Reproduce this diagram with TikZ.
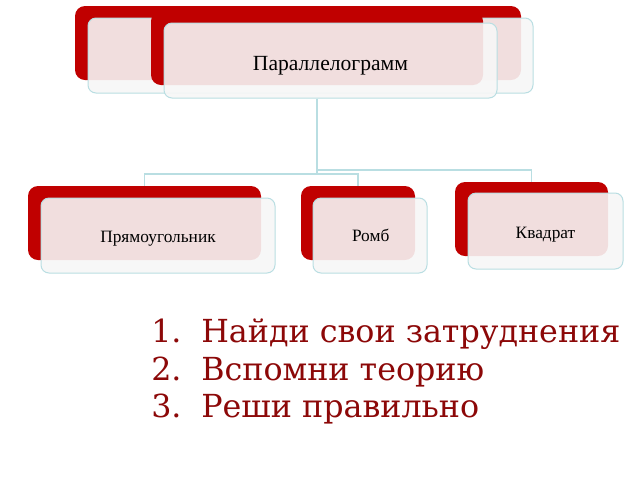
\documentclass[tikz,border=0pt]{standalone}
\usepackage{fontspec}
\newfontfamily\listfont{DejaVu Serif}
\newfontfamily\boxfont{Liberation Serif}
\definecolor{boxred}{RGB}{192,0,0}
\definecolor{boxlight}{RGB}{247,247,247}
\definecolor{boxedge}{RGB}{185,222,226}
\definecolor{listred}{RGB}{140,8,8}
\tikzset{
  redbox/.style={draw=none, fill=boxred, rounded corners=7.5pt, inner sep=0pt},
  lightbox/.style={draw=boxedge, line width=0.75pt, fill=boxlight, fill opacity=0.9, text opacity=1, rounded corners=6pt, inner sep=0pt, font=\boxfont, text depth=0pt},
  conn/.style={draw=boxedge, line width=0.8pt},
  listtxt/.style={inner sep=0pt, anchor=base west, text=listred, font=\listfont\fontsize{23.8}{28}\selectfont}
}
\begin{document}
\begin{tikzpicture}[x=0.75pt, y=-0.75pt]
\useasboundingbox (0,0) rectangle (640,480);
\fill[white] (0,0) rectangle (640,480);
% top group
\node[redbox, minimum width=334.5pt, minimum height=55.5pt] (red1) at (298,43) {};
\node[lightbox, minimum width=333.75pt, minimum height=56.25pt] (light1) at (310.5,55.5) {};
\node[redbox, minimum width=249pt, minimum height=55.5pt] (red2) at (317,48) {};
\node[lightbox, minimum width=249.75pt, minimum height=56.25pt, text height=15.5pt, font=\boxfont\fontsize{16.2}{19}\selectfont] (light2) at (330.5,60.5) {Параллелограмм};
% bottom boxes
\node[redbox, minimum width=174.75pt, minimum height=55.5pt] (r1) at (144.5,223) {};
\node[lightbox, minimum width=175.5pt, minimum height=56.25pt, text height=10.8pt, font=\boxfont\fontsize{13}{16}\selectfont] (l1) at (158,235.5) {Прямоугольник};
\node[redbox, minimum width=85.5pt, minimum height=55.5pt] (r2) at (358,223) {};
\node[lightbox, minimum width=85.5pt, minimum height=56.25pt, text height=8.25pt, font=\boxfont\fontsize{13}{16}\selectfont] (l2) at (370,235.5) {\hspace{1pt}Ромб};
\node[redbox, minimum width=114.75pt, minimum height=55.5pt] (r3) at (531.5,219) {};
\node[lightbox, minimum width=116.25pt, minimum height=57pt, text height=10.5pt, font=\boxfont\fontsize{13}{16}\selectfont] (l3) at (545.5,231) {Квадрат};
% connectors
\coordinate (j1) at (317,174);
\coordinate (j2) at (317,170);
\draw[conn] (red2.south |- light2.south) -- (j1) -| (r1.north);
\draw[conn] (j1) -| (r2.north);
\draw[conn] (j2) -| (r3.north);
% list
\node[listtxt] (n1) at (151,342) {1.};
\node[listtxt] (t1) at (201,342) {Найди свои затруднения};
\node[listtxt] (n2) at (151,380) {2.};
\node[listtxt] (t2) at (201,380) {Вспомни теорию};
\node[listtxt] (n3) at (151,417) {3.};
\node[listtxt] (t3) at (201,417) {Реши правильно};
\end{tikzpicture}
\end{document}
